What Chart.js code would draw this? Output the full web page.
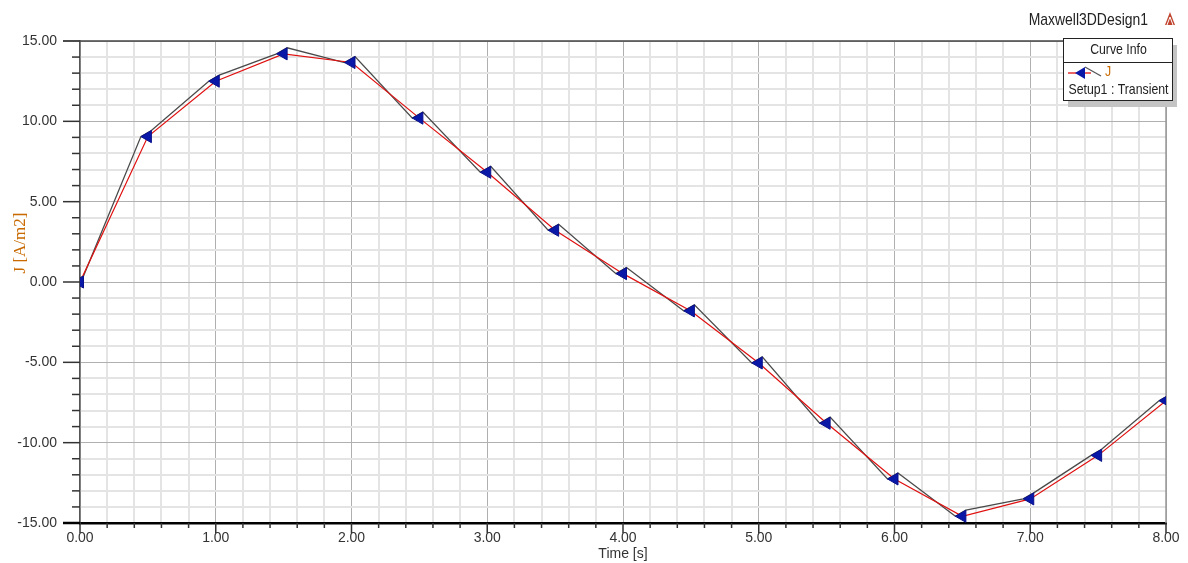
<!DOCTYPE html>
<html>
<head>
<meta charset="utf-8">
<title>Maxwell3DDesign1 - J</title>
<script src="https://cdn.jsdelivr.net/npm/chart.js@4.4.1/dist/chart.umd.min.js"></script>
<style>
  html, body { margin: 0; padding: 0; background: #fff; }
  .wrap { width: 1188px; height: 563px; position: relative; }
</style>
</head>
<body>
<div class="wrap"><canvas id="plot"></canvas></div>
<script>
// values: J [A/m2] over Time [s]
const times = [0, 0.5, 1, 1.5, 2, 2.5, 3, 3.5, 4, 4.5, 5, 5.5, 6, 6.5, 7, 7.5, 8]
const jValues = [0, 9.05, 12.5, 14.2, 13.66, 10.2, 6.83, 3.22, 0.52, -1.8, -5.04, -8.79, -12.26, -14.58, -13.5, -10.79, -7.39]

const xMajorTicks = [0, 1, 2, 3, 4, 5, 6, 7, 8]
const yMajorTicks = [-15, -10, -5, 0, 5, 10, 15]

const designName = 'Maxwell3DDesign1'
const curveName = 'J'
const setupName = 'Setup1 : Transient'

const sans = "'Liberation Sans', Arial, sans-serif"
const serif = "'Liberation Serif', 'Times New Roman', serif"
const orange = '#c86a00'

const isMajor = (v, list) => list.some(m => Math.abs(m - v) < 1e-6)

// no narrow face installed, so squeeze the regular one
function narrowText(ctx, text, x, y, size, align) {
    ctx.save()
    ctx.translate(x, y)
    ctx.scale(0.82, 1)
    ctx.font = size + 'px ' + sans
    ctx.textAlign = align
    ctx.textBaseline = 'middle'
    ctx.fillText(text, 0, 0)
    ctx.restore()
}

let canvas = document.querySelector('#plot')

// zig-zag trace, tick marks, frame and the curve info box
const frame = {
    id: 'frame',
    beforeDatasetsDraw(chart) {
        const ctx = chart.ctx
        const area = chart.chartArea
        const xs = chart.scales.x
        const ys = chart.scales.y

        ctx.save()
        // tick marks
        ctx.strokeStyle = '#333'
        ctx.lineWidth = 1.5
        for (let t of ys.ticks) {
            let y = ys.getPixelForValue(t.value)
            let len = isMajor(t.value, yMajorTicks) ? 17 : 8
            ctx.beginPath()
            ctx.moveTo(area.left - len, y)
            ctx.lineTo(area.left, y)
            ctx.stroke()
        }
        for (let t of xs.ticks) {
            let x = xs.getPixelForValue(t.value)
            let len = isMajor(t.value, xMajorTicks) ? 10 : 5
            ctx.beginPath()
            ctx.moveTo(x, area.bottom)
            ctx.lineTo(x, area.bottom + len)
            ctx.stroke()
        }
        // top and right border
        ctx.strokeStyle = '#444'
        ctx.lineWidth = 1.5
        ctx.beginPath()
        ctx.moveTo(area.left - 17, area.top)
        ctx.lineTo(area.right, area.top)
        ctx.stroke()
        ctx.strokeStyle = '#999'
        ctx.beginPath()
        ctx.moveTo(area.right, area.top)
        ctx.lineTo(area.right, area.bottom)
        ctx.stroke()
        ctx.strokeStyle = '#000'
        ctx.lineWidth = 2.5
        ctx.beginPath()
        ctx.moveTo(area.left - 17, area.bottom)
        ctx.lineTo(area.left, area.bottom)
        ctx.stroke()

        // dark trace running tip -> upper corner of each marker
        const pts = chart.getDatasetMeta(0).data
        const r = chart.data.datasets[0].pointRadius
        ctx.beginPath()
        ctx.rect(area.left, area.top, area.right - area.left, area.bottom - area.top)
        ctx.clip()
        ctx.strokeStyle = '#4a4a4a'
        ctx.lineWidth = 1.3
        ctx.beginPath()
        pts.forEach((p, i) => {
            if (i === 0) ctx.moveTo(p.x - r, p.y)
            else ctx.lineTo(p.x - r, p.y)
            ctx.lineTo(p.x + 0.5 * r, p.y - 0.866 * r)
        })
        ctx.stroke()
        ctx.restore()
    },
    afterDraw(chart) {
        const ctx = chart.ctx
        ctx.save()

        // y axis title
        ctx.save()
        ctx.fillStyle = orange
        ctx.font = '17px ' + serif
        ctx.textAlign = 'center'
        ctx.textBaseline = 'middle'
        ctx.translate(21, 243)
        ctx.rotate(-Math.PI / 2)
        ctx.fillText('J [A/m2]', 0, 0)
        ctx.restore()

        // design name + logo
        ctx.fillStyle = '#222'
        narrowText(ctx, designName, 1148, 20, 17, 'right')
        ctx.fillStyle = '#c0452e'
        ctx.beginPath()
        ctx.moveTo(1170, 12)
        ctx.lineTo(1175, 25)
        ctx.lineTo(1165, 25)
        ctx.closePath()
        ctx.fill()
        ctx.strokeStyle = '#fff'
        ctx.lineWidth = 1
        ctx.beginPath()
        ctx.moveTo(1170, 17)
        ctx.lineTo(1167, 25)
        ctx.moveTo(1170, 17)
        ctx.lineTo(1173, 25)
        ctx.stroke()

        // curve info box
        let bx = 1063, by = 38, bw = 109, bh = 62
        ctx.fillStyle = '#c4c4c4'
        ctx.fillRect(bx + 5, by + 7, bw, bh)
        ctx.fillStyle = '#fff'
        ctx.fillRect(bx, by, bw, bh)
        ctx.strokeStyle = '#222'
        ctx.lineWidth = 1
        ctx.strokeRect(bx + 0.5, by + 0.5, bw, bh)
        ctx.beginPath()
        ctx.moveTo(bx, by + 24.5)
        ctx.lineTo(bx + bw, by + 24.5)
        ctx.stroke()

        ctx.fillStyle = '#222'
        narrowText(ctx, 'Curve Info', bx + bw / 2 + 1, by + 12, 15, 'center')
        narrowText(ctx, setupName, bx + bw / 2 + 1, by + 52, 15, 'center')

        // legend sample
        let ly = by + 35
        ctx.strokeStyle = '#e01010'
        ctx.lineWidth = 1.3
        ctx.beginPath()
        ctx.moveTo(bx + 5, ly)
        ctx.lineTo(bx + 28, ly)
        ctx.stroke()
        ctx.fillStyle = '#0a18a8'
        ctx.beginPath()
        ctx.moveTo(bx + 12, ly)
        ctx.lineTo(bx + 22, ly - 6)
        ctx.lineTo(bx + 22, ly + 6)
        ctx.closePath()
        ctx.fill()
        ctx.strokeStyle = '#555'
        ctx.beginPath()
        ctx.moveTo(bx + 22, ly - 6)
        ctx.lineTo(bx + 38, ly + 3)
        ctx.stroke()
        ctx.fillStyle = orange
        narrowText(ctx, curveName, bx + 42, ly - 1, 15, 'left')

        ctx.restore()
    }
}

const data = {
    datasets: [
        {
            label: curveName,
            data: times.map((t, i) => ({ x: t, y: jValues[i] })),
            borderColor: '#e01010',
            borderWidth: 1.2,
            pointStyle: 'triangle',
            rotation: -90,
            pointRadius: 7,
            pointBackgroundColor: '#0a18a8',
            pointBorderColor: '#08108a',
            pointBorderWidth: 1,
            tension: 0
        }
    ]
}

const config = {
    type: 'line',
    data: data,
    options: {
        responsive: true,
        maintainAspectRatio: false,
        animation: false,
        layout: {
            padding: { top: 41, right: 22, left: 0, bottom: 0 }
        },
        plugins: {
            legend: { display: false },
            tooltip: { enabled: false }
        },
        scales: {
            x: {
                type: 'linear',
                min: 0,
                max: 8,
                afterFit: s => { s.height = 40 },
                ticks: {
                    stepSize: 0.2,
                    autoSkip: false,
                    maxRotation: 0,
                    padding: 7,
                    color: '#333',
                    font: { family: sans, size: 14 },
                    callback: v => isMajor(v, xMajorTicks) ? v.toFixed(2) : ''
                },
                grid: {
                    drawTicks: false,
                    color: c => isMajor(c.tick.value, xMajorTicks) ? '#b0b0b0' : '#e4e4e4',
                    lineWidth: c => isMajor(c.tick.value, xMajorTicks) ? 1 : 2
                },
                border: { display: true, color: '#000', width: 2.5 },
                title: {
                    display: true,
                    text: 'Time [s]',
                    color: '#333',
                    font: { family: sans, size: 14 },
                    padding: 0
                }
            },
            y: {
                type: 'linear',
                min: -15,
                max: 15,
                afterFit: s => { s.width = 80 },
                ticks: {
                    stepSize: 1,
                    autoSkip: false,
                    padding: 23,
                    color: '#333',
                    font: { family: sans, size: 14 },
                    callback: v => isMajor(v, yMajorTicks) ? v.toFixed(2) : ''
                },
                grid: {
                    drawTicks: false,
                    color: c => isMajor(c.tick.value, yMajorTicks) ? '#b0b0b0' : '#e4e4e4',
                    lineWidth: c => isMajor(c.tick.value, yMajorTicks) ? 1 : 2
                },
                border: { display: true, color: '#555', width: 1.5 }
            }
        }
    },
    plugins: [frame]
}

new Chart(canvas, config)
</script>
</body>
</html>
